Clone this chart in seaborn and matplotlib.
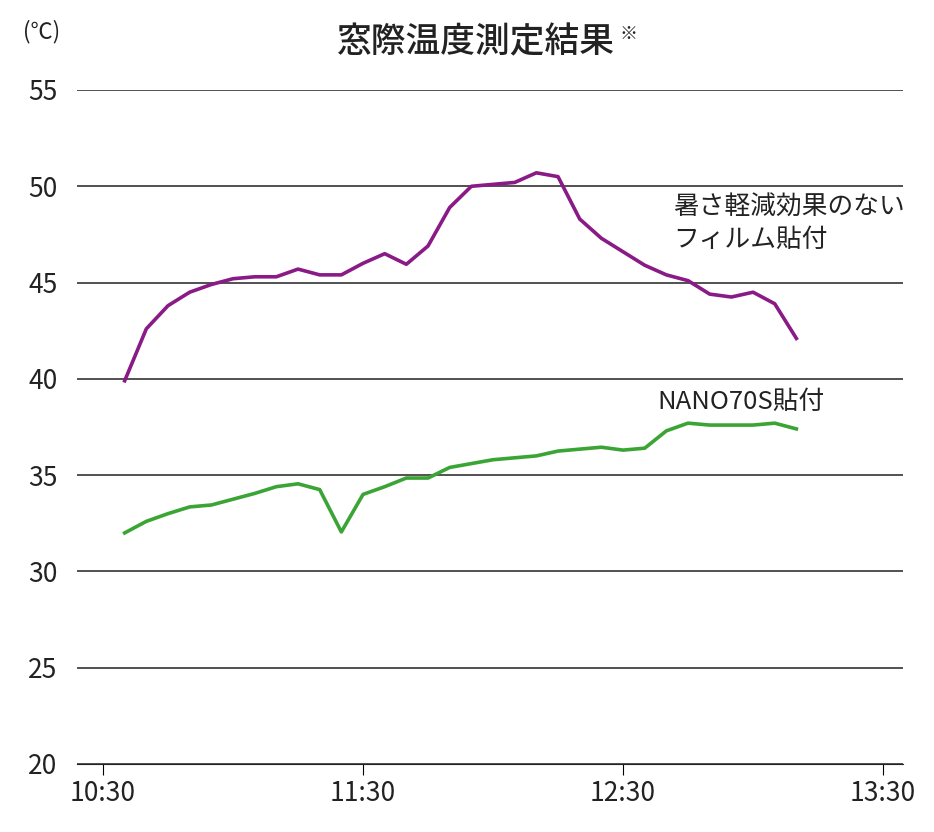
import numpy as np
import pandas as pd
import matplotlib
matplotlib.use("Agg")
import matplotlib.pyplot as plt
import seaborn as sns

plt.rcParams["font.family"] = "Noto Sans CJK JP"

# minutes after 10:30
minutes = list(range(5, 165, 5))
purple = [39.9, 42.6, 43.8, 44.5, 44.9, 45.2, 45.3, 45.3, 45.7, 45.4, 45.4, 46.0,
          46.5, 45.95, 46.9, 48.9, 50.0, 50.1, 50.2, 50.7, 50.5, 48.3, 47.3, 46.6,
          45.9, 45.4, 45.1, 44.4, 44.25, 44.5, 43.9, 42.1]
green = [32.0, 32.6, 33.0, 33.35, 33.45, 33.75, 34.05, 34.4, 34.55, 34.25, 32.05, 34.0,
         34.4, 34.85, 34.85, 35.4, 35.6, 35.8, 35.9, 36.0, 36.25, 36.35, 36.45, 36.3,
         36.4, 37.3, 37.7, 37.6, 37.6, 37.6, 37.7, 37.4]
x_ticks = [0, 60, 120, 180]
x_labels = ["10:30", "11:30", "12:30", "13:30"]
y_ticks = [20, 25, 30, 35, 40, 45, 50, 55]

df = pd.DataFrame({"min": minutes, "purple": purple, "green": green})

fig = plt.figure(figsize=(9.34, 8.32), dpi=100)
ax = fig.add_axes([77 / 934, 1 - 764 / 832, (903 - 77) / 934, (764 - 90) / 832])

sns.lineplot(data=df, x="min", y="purple", ax=ax, color="#8a1a86", linewidth=2.6)
sns.lineplot(data=df, x="min", y="green", ax=ax, color="#3aa535", linewidth=2.6)

ax.set_xlim(-6, 184.6)
ax.set_ylim(20, 55)
ax.set_yticks(y_ticks)
ax.set_xticks(x_ticks)
ax.set_xticklabels(x_labels)
ax.grid(axis="y", color="#222222", linewidth=1.1)
ax.set_axisbelow(True)
for s in ["top", "right", "left"]:
    ax.spines[s].set_visible(False)
ax.spines["bottom"].set_color("#222222")
ax.tick_params(axis="y", length=0, pad=14, labelsize=19, labelcolor="#222222")
ax.tick_params(axis="x", length=8, direction="out", labelsize=19, labelcolor="#222222")
ax.set_xlabel("")
ax.set_ylabel("")

fig.text(615 / 934, 1 - 42 / 832, "窓際温度測定結果", ha="right", va="center",
         fontsize=25, fontweight="medium", color="#222222")
fig.text(619 / 934, 1 - 34 / 832, "※", ha="left", va="center", fontsize=13, color="#222222")
fig.text(42 / 934, 1 - 32 / 832, "(℃)", ha="center", va="center", fontsize=16, color="#222222")
ax.text(131.5, 48.9, "暑さ軽減効果のない", fontsize=18.5, color="#222222", va="center")
ax.text(131.5, 47.2, "フィルム貼付", fontsize=18.5, color="#222222", va="center")
ax.text(128, 38.8, "NANO70S貼付", fontsize=18.5, color="#222222", va="center")

fig.savefig("out.png", dpi=100)
